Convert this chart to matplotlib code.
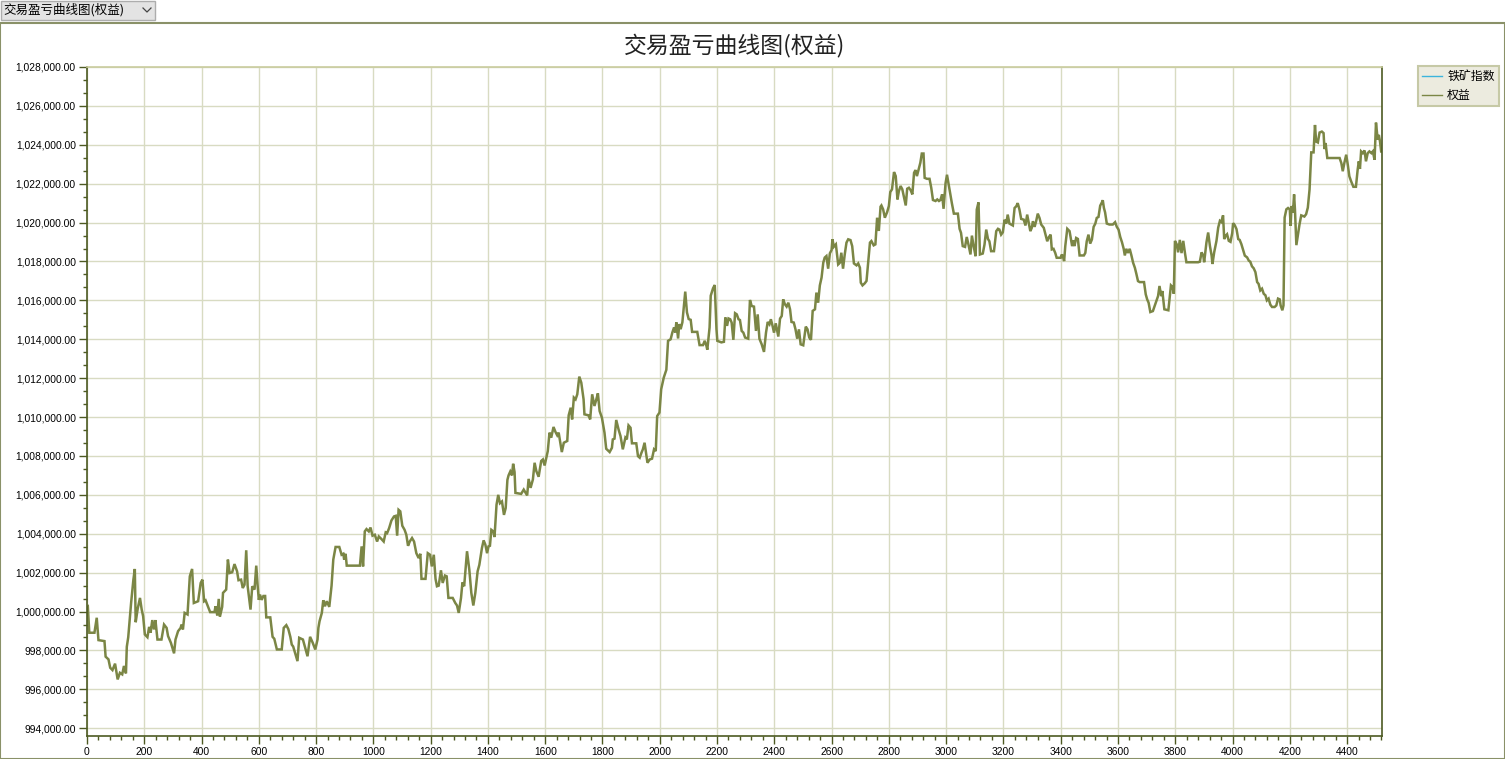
import matplotlib
matplotlib.use("Agg")
import matplotlib.pyplot as plt
from matplotlib.lines import Line2D
from matplotlib.patches import Rectangle
from matplotlib.ticker import MultipleLocator, FuncFormatter
import numpy as np

plt.rcParams["font.family"] = ["Noto Sans CJK SC", "DejaVu Sans"]

# bar index of each vertex of the equity curve
bar_index = [
    0, 3, 8, 26, 34, 40, 61, 65, 75, 81, 89, 98, 107, 115, 123, 129, 136, 139, 144, 154,
    162, 167, 170, 177, 185, 191, 196, 202, 211, 217, 222, 228, 234, 239, 246, 260, 269, 278, 283, 293,
    304, 309, 318, 327, 330, 335, 341, 351, 359, 367, 373, 388, 397, 403, 409, 414, 422, 430, 445, 449,
    455, 460, 464, 472, 475, 486, 492, 498, 507, 515, 524, 529, 538, 544, 550, 556, 561, 571, 577, 585,
    591, 596, 600, 604, 610, 616, 622, 626, 640, 648, 654, 663, 680, 687, 696, 703, 710, 715, 720, 726,
    735, 741,
    754, 762, 770, 779, 788, 797, 805, 808, 812, 820, 825, 831, 837, 846, 854, 860, 868, 881, 889, 895,
    898, 903, 907, 953, 959, 964, 970, 976, 984, 990, 997, 1005, 1013, 1019, 1028, 1036, 1043, 1048, 1055, 1063,
    1072, 1078, 1083, 1088, 1094, 1101, 1109, 1115, 1121, 1127, 1135, 1142, 1150, 1158, 1164, 1168, 1182, 1190, 1198, 1204,
    1211, 1217, 1222, 1228, 1236, 1242, 1250, 1256, 1262, 1277, 1286, 1292, 1298, 1306, 1311, 1317, 1327, 1335, 1342, 1349,
    1356, 1364, 1370, 1379, 1385, 1391, 1397, 1402, 1407, 1412, 1419, 1423, 1430, 1436, 1442, 1449, 1456, 1462, 1468, 1472,
    1478, 1484, 1488,
    1493, 1496, 1516, 1525, 1537, 1542, 1549, 1557, 1563, 1569, 1577, 1586, 1592, 1598, 1609, 1615, 1621, 1629, 1636, 1642,
    1647, 1658, 1665, 1677, 1682, 1689, 1694, 1700, 1706, 1712, 1719, 1726, 1734, 1737, 1751, 1757, 1764, 1772, 1778, 1784,
    1790, 1798, 1807, 1813, 1825, 1833, 1836, 1842, 1848, 1856, 1863, 1871, 1880, 1885, 1891, 1898, 1903, 1918, 1924, 1930,
    1936, 1941, 1947, 1957, 1965, 1973, 1980, 1986, 1991, 1999, 2005, 2014, 2023, 2029, 2038, 2044, 2050, 2054, 2058, 2064,
    2068, 2073, 2079, 2085, 2089, 2095, 2101, 2108, 2113, 2131, 2139, 2151, 2157, 2163, 2166, 2174, 2178, 2186, 2192, 2198,
    2201, 2215, 2224, 2229, 2235, 2240,
    2246, 2251, 2257, 2263, 2269, 2275, 2280, 2286, 2292, 2298, 2309, 2315, 2321, 2329, 2336, 2342, 2348, 2356, 2364, 2371,
    2377, 2383, 2388, 2394, 2399, 2405, 2414, 2420, 2426, 2431, 2437, 2443, 2449, 2455, 2460, 2468, 2474, 2480, 2486, 2492,
    2501, 2510, 2516, 2522, 2528, 2534, 2542, 2547, 2553, 2559, 2565, 2571, 2576, 2582, 2588, 2594, 2600, 2603, 2608, 2615,
    2623, 2629, 2634, 2640, 2646, 2652, 2658, 2666, 2672, 2678, 2687, 2693, 2699, 2702, 2708, 2716, 2722, 2728, 2734, 2739,
    2747, 2753, 2759, 2765, 2771, 2774, 2780, 2786, 2794, 2800, 2805, 2811, 2818, 2824, 2830, 2835, 2841, 2847, 2852, 2859,
    2864, 2870, 2876, 2882, 2888, 2893, 2898, 2904, 2910, 2915, 2921, 2925, 2933, 2942, 2948, 2954, 2963, 2969, 2975, 2980,
    2986, 2991,
    2998, 3003, 3008, 3014, 3020, 3027, 3041, 3047, 3052, 3058, 3066, 3072, 3078, 3085, 3090, 3096, 3103, 3107, 3113, 3118,
    3128, 3134, 3140, 3146, 3151, 3157, 3167, 3175, 3181, 3186, 3192, 3198, 3204, 3210, 3215, 3221, 3227, 3233, 3239, 3245,
    3250, 3256, 3262, 3271, 3277, 3283, 3288, 3294, 3299, 3303, 3309, 3315, 3320, 3326, 3332, 3341, 3347, 3353, 3359, 3365,
    3369, 3375, 3381, 3386, 3400, 3404, 3408, 3412, 3416, 3423, 3431, 3437, 3440, 3445, 3448, 3454, 3460, 3466, 3481, 3486,
    3491, 3497, 3503, 3509, 3515, 3521, 3526, 3532, 3538, 3544, 3547, 3551, 3555, 3561, 3570, 3582, 3590, 3596, 3602, 3608,
    3614, 3620, 3624, 3629, 3635, 3641, 3647, 3653, 3659, 3664, 3670, 3676, 3691, 3697, 3702, 3707, 3713, 3722, 3728, 3734,
    3740, 3745, 3751, 3755,
    3762, 3776, 3779, 3785, 3791, 3795, 3799, 3805, 3810, 3816, 3822, 3828, 3834, 3839, 3880, 3886, 3892, 3898, 3901, 3909,
    3915, 3921, 3927, 3930, 3936, 3944, 3950, 3956, 3961, 3967, 3971, 3976, 3981, 3987, 3993, 3999, 4002, 4008, 4014, 4020,
    4025, 4031, 4037, 4043, 4051, 4057, 4062, 4068, 4074, 4080, 4086, 4091, 4097, 4103, 4109, 4115, 4120, 4126, 4132, 4138,
    4147, 4153, 4159, 4165, 4168, 4174, 4178, 4182, 4188, 4194, 4200, 4203, 4206, 4211, 4215, 4218, 4223, 4228, 4234, 4240,
    4251, 4257, 4263, 4269, 4275, 4283, 4288, 4292, 4298, 4304, 4312, 4318, 4321, 4325, 4331, 4374, 4380, 4385, 4391, 4397,
    4403, 4408, 4414, 4422, 4431, 4437, 4441, 4445, 4449, 4455, 4461, 4466, 4472, 4478, 4485, 4490, 4496, 4501, 4507, 4511,
    4515, 4519,
]

# equity in thousands
equity_k = [
    1000.2, 1000.24, 998.91, 998.91, 999.68, 998.53, 998.48, 997.68, 997.54, 997.11, 996.99, 997.32, 996.51, 996.85, 996.77, 997.2, 996.82, 998.19, 998.68, 1000.44,
    1001.64, 1002.19, 999.45, 1000.14, 1000.7, 1000.1, 999.76, 998.82, 998.68, 999.21, 998.91, 999.56, 999.08, 999.56, 998.56, 998.56, 999.33, 999.16, 998.74, 998.39,
    997.85, 998.56, 998.99, 999.16, 999.33, 999.08, 999.93, 999.85, 1001.81, 1002.19, 1000.44, 1000.53, 1001.47, 1001.64, 1000.53, 1000.58, 1000.27, 999.97, 999.97, 1000.27,
    999.79, 1000.65, 999.73, 1000.24, 1000.96, 1001.13, 1002.67, 1001.98, 1002.02, 1002.44, 1002.07, 1001.61, 1001.64, 1001.21, 1001.38, 1003.15, 1001.3, 1000.1, 1001.3, 1001.13,
    1002.36, 1001.3, 1000.6, 1000.87, 1000.6, 1000.8, 1000.8, 999.7, 999.7, 998.7, 998.6, 998.05, 998.05, 999.16, 999.3, 999.1, 998.7, 998.3, 998.2, 997.9,
    997.45, 998.65,
    998.56, 998.14, 997.7, 998.7, 998.4, 998.05, 998.56, 999.16, 999.5, 999.93, 1000.58, 1000.27, 1000.53, 1000.24, 1001.33, 1002.67, 1003.32, 1003.32, 1002.92, 1002.97,
    1002.67, 1002.97, 1002.36, 1002.36, 1003.35, 1002.32, 1004.12, 1004.24, 1004.12, 1004.32, 1003.9, 1003.95, 1003.6, 1003.86, 1003.73, 1003.6, 1004.07, 1004.03, 1004.29, 1004.68,
    1004.89, 1004.92, 1003.9, 1005.23, 1005.15, 1004.41, 1004.2, 1003.95, 1003.38, 1003.6, 1003.78, 1003.6, 1003.0, 1002.75, 1002.97, 1001.68, 1001.68, 1003.0, 1002.92, 1002.32,
    1002.92, 1001.68, 1001.3, 1001.33, 1002.12, 1001.47, 1001.85, 1001.81, 1000.7, 1000.7, 1000.44, 1000.31, 999.93, 1000.7, 1001.5, 1001.3, 1003.1, 1002.15, 1000.96, 1000.31,
    1000.96, 1002.07, 1002.4, 1003.26, 1003.66, 1003.44, 1003.0, 1003.35, 1003.38, 1004.2, 1004.12, 1003.83, 1005.49, 1006.0, 1005.57, 1005.66, 1004.97, 1005.32, 1006.77, 1007.0,
    1007.2, 1007.0, 1007.6,
    1007.17, 1006.1, 1006.05, 1006.27, 1005.97, 1006.82, 1006.36, 1006.79, 1007.65, 1007.22, 1006.93, 1007.74, 1007.82, 1007.51, 1008.25, 1009.2, 1008.94, 1009.49, 1009.23, 1009.06,
    1009.2, 1008.2, 1008.68, 1008.77, 1010.09, 1010.48, 1009.88, 1011.0, 1010.91, 1011.17, 1012.08, 1011.77, 1010.91, 1010.14, 1010.09, 1009.88, 1011.17, 1010.57, 1010.88, 1011.22,
    1010.31, 1009.97, 1009.2, 1008.37, 1008.2, 1008.42, 1008.85, 1008.89, 1009.85, 1009.37, 1009.02, 1008.34, 1008.94, 1008.85, 1009.57, 1009.45, 1008.65, 1008.65, 1007.99, 1007.91,
    1008.16, 1008.34, 1008.68, 1007.65, 1007.82, 1007.86, 1008.34, 1008.25, 1010.05, 1010.23, 1011.43, 1012.03, 1012.43, 1013.92, 1014.0, 1014.35, 1014.61, 1014.35, 1014.87, 1014.04,
    1014.78, 1014.52, 1014.87, 1015.81, 1016.45, 1015.38, 1015.04, 1015.0, 1014.38, 1014.38, 1013.7, 1013.7, 1013.92, 1013.66, 1013.46, 1014.61, 1016.24, 1016.62, 1016.79, 1014.52,
    1013.92, 1013.84, 1013.87, 1015.12, 1014.69, 1015.07,
    1015.03, 1014.86, 1013.97, 1015.34, 1015.28, 1015.03, 1014.99, 1014.43, 1014.34, 1014.09, 1014.03, 1016.02, 1015.71, 1015.68, 1014.43, 1015.28, 1014.03, 1013.74, 1013.35, 1014.34,
    1014.89, 1014.77, 1015.03, 1014.68, 1014.34, 1014.82, 1014.14, 1015.06, 1015.2, 1016.05, 1015.8, 1015.68, 1015.88, 1015.54, 1014.89, 1014.86, 1014.51, 1014.03, 1014.51, 1013.74,
    1013.69, 1014.65, 1014.51, 1014.09, 1013.97, 1015.46, 1015.54, 1016.4, 1015.88, 1016.77, 1017.17, 1017.94, 1018.2, 1018.28, 1017.63, 1018.42, 1018.59, 1019.14, 1018.76, 1018.88,
    1017.85, 1017.94, 1018.45, 1017.63, 1018.37, 1018.97, 1019.14, 1019.1, 1018.79, 1017.9, 1017.8, 1017.9, 1017.68, 1016.91, 1016.77, 1016.88, 1017.0, 1017.97, 1018.97, 1019.05,
    1018.83, 1018.88, 1020.25, 1019.57, 1020.82, 1020.88, 1020.68, 1020.25, 1020.54, 1020.85, 1021.57, 1021.71, 1022.6, 1022.39, 1021.19, 1021.62, 1021.88, 1021.71, 1021.36, 1020.88,
    1021.74, 1021.79, 1021.67, 1021.45, 1022.56, 1022.7, 1022.39, 1022.73, 1023.08, 1023.55, 1023.55, 1022.3, 1022.25, 1022.25, 1021.79, 1021.16, 1021.11, 1021.19, 1021.11, 1021.16,
    1021.45, 1020.71,
    1022.03, 1022.46, 1022.03, 1021.52, 1021.0, 1020.46, 1020.46, 1019.68, 1019.47, 1018.79, 1018.75, 1019.26, 1018.87, 1018.36, 1019.33, 1018.79, 1018.27, 1020.67, 1021.04, 1018.36,
    1018.41, 1018.87, 1019.64, 1019.16, 1019.04, 1018.53, 1018.53, 1019.56, 1019.68, 1019.64, 1019.38, 1019.5, 1020.15, 1019.95, 1020.41, 1019.95, 1019.9, 1019.85, 1020.75, 1020.84,
    1021.0, 1020.67, 1020.19, 1020.15, 1019.85, 1020.41, 1020.02, 1019.56, 1019.73, 1020.07, 1019.78, 1020.12, 1020.46, 1020.24, 1019.9, 1019.73, 1019.38, 1019.04, 1019.26, 1019.38,
    1018.62, 1018.65, 1018.44, 1018.19, 1018.19, 1018.36, 1018.24, 1018.02, 1018.79, 1019.68, 1019.56, 1019.04, 1018.79, 1019.09, 1018.79, 1019.21, 1019.16, 1018.31, 1018.31, 1018.44,
    1019.04, 1019.38, 1018.92, 1019.13, 1019.78, 1019.95, 1020.24, 1020.29, 1020.87, 1021.04, 1021.15, 1020.75, 1020.53, 1019.95, 1019.9, 1019.9, 1020.02, 1019.78, 1019.64, 1019.26,
    1018.99, 1018.65, 1018.31, 1018.65, 1018.44, 1018.65, 1018.31, 1017.93, 1017.68, 1017.38, 1016.99, 1016.94, 1016.94, 1016.31, 1016.05, 1015.88, 1015.4, 1015.45, 1015.71, 1015.97,
    1016.22, 1016.74, 1016.22, 1016.48,
    1015.54, 1015.49, 1015.91, 1016.77, 1016.68, 1016.34, 1019.06, 1018.89, 1018.47, 1019.11, 1018.43, 1019.06, 1018.43, 1017.96, 1017.96, 1017.99, 1018.47, 1018.3, 1017.96, 1018.98,
    1019.49, 1018.81, 1018.3, 1017.87, 1018.47, 1019.06, 1019.74, 1020.09, 1020.03, 1020.37, 1019.15, 1019.32, 1019.4, 1019.06, 1019.01, 1019.46, 1019.97, 1019.86, 1019.66, 1019.15,
    1019.11, 1018.89, 1018.6, 1018.3, 1018.21, 1018.04, 1017.99, 1017.75, 1017.65, 1017.45, 1016.94, 1016.85, 1016.51, 1016.6, 1016.34, 1016.26, 1016.0, 1016.09, 1015.78, 1015.66,
    1015.66, 1015.74, 1016.09, 1016.05, 1015.74, 1015.49, 1015.74, 1020.26, 1020.68, 1020.75, 1020.68, 1019.83, 1020.85, 1020.51, 1021.45, 1020.68, 1018.84, 1019.32, 1019.91, 1020.37,
    1020.31, 1020.43, 1020.77, 1021.7, 1023.61, 1023.61, 1025.02, 1024.17, 1024.12, 1024.63, 1024.68, 1024.6, 1023.78, 1024.09, 1023.32, 1023.32, 1023.06, 1022.64, 1023.1, 1023.49,
    1022.93, 1022.38, 1022.13, 1021.84, 1021.84, 1022.72, 1023.15, 1022.76, 1023.66, 1023.57, 1023.71, 1023.15, 1023.57, 1023.66, 1023.57, 1023.66, 1023.23, 1025.14, 1024.26, 1024.51,
    1024.17, 1023.66,
]

title = "交易盈亏曲线图(权益)"
series_names = ["铁矿指数", "权益"]
x_ticks = list(range(0, 4401, 200))

W, H = 1505, 759
fig = plt.figure(figsize=(W / 100, H / 100), dpi=100)
fig.patch.set_facecolor("white")

# control frame + combo box on top
fig.patches.append(Rectangle((0, 0), 1, 1 - 23 / H, transform=fig.transFigure,
                             fill=False, edgecolor="#8a9168", linewidth=1.5, zorder=0))
fig.patches.append(Rectangle((0.5 / W, 1 - 20 / H), 154 / W, 19.5 / H, transform=fig.transFigure,
                             facecolor="#e3e3e3", edgecolor="#adadad", linewidth=1, zorder=1))
fig.text(3 / W, 1 - 10 / H, title, fontsize=9, va="center", ha="left", color="black")
fig.lines.append(Line2D([143 / W, 147 / W, 151 / W], [1 - 8 / H, 1 - 12 / H, 1 - 8 / H],
                        transform=fig.transFigure, color="#444444", linewidth=0.9))

ax = fig.add_axes([87 / W, 1 - 736 / H, (1382 - 87) / W, (736 - 67) / H])

olive = "#7b8645"
axis_col = "#4d5a22"
grid_col = "#d8dbc2"

equity = np.array(equity_k) * 1000
ax.plot([], [], color="#3cb4dc", linewidth=1, label=series_names[0])
ax.plot(bar_index, equity, color=olive, linewidth=1.8, label=series_names[1], solid_joinstyle="miter")

ax.set_xlim(0, 4522)
ax.set_ylim(993600, 1028000)
ax.set_xticks(x_ticks)
ax.xaxis.set_minor_locator(MultipleLocator(40))
ax.yaxis.set_major_locator(MultipleLocator(2000))
ax.yaxis.set_minor_locator(MultipleLocator(2000 / 3))
ax.yaxis.set_major_formatter(FuncFormatter(lambda v, p: "{:,.2f}".format(v)))

ax.grid(True, which="major", color=grid_col, linewidth=1.0)
ax.set_axisbelow(True)
for side in ["left", "bottom", "right"]:
    ax.spines[side].set_color(axis_col)
    ax.spines[side].set_linewidth(1.2)
ax.spines["top"].set_color("#c9cc9e")
ax.spines["top"].set_linewidth(1.2)

ax.tick_params(axis="both", which="major", length=6, width=1, color=axis_col,
               labelsize=7.4, pad=2)
ax.tick_params(axis="both", which="minor", length=3, width=1, color=axis_col)
for lab in ax.get_xticklabels() + ax.get_yticklabels():
    lab.set_fontfamily("Liberation Sans")

fig.text((87 + 1382) / 2 / W, 1 - 45 / H, title, fontsize=16.5, ha="center", va="center", color="#222222")

leg = ax.legend(loc="upper left", bbox_to_anchor=(1418 / W, 1 - 66 / H), bbox_transform=fig.transFigure,
                borderaxespad=0, fontsize=8.6, handlelength=1.7, handletextpad=0.4, borderpad=0.35,
                labelspacing=0.5, fancybox=False, framealpha=1)
for h in leg.get_lines():
    h.set_linewidth(1.0)
leg.get_frame().set_facecolor("#ecebdf")
leg.get_frame().set_edgecolor("#c6c9a6")
leg.get_frame().set_linewidth(1.5)

fig.savefig("out.png", dpi=100)
